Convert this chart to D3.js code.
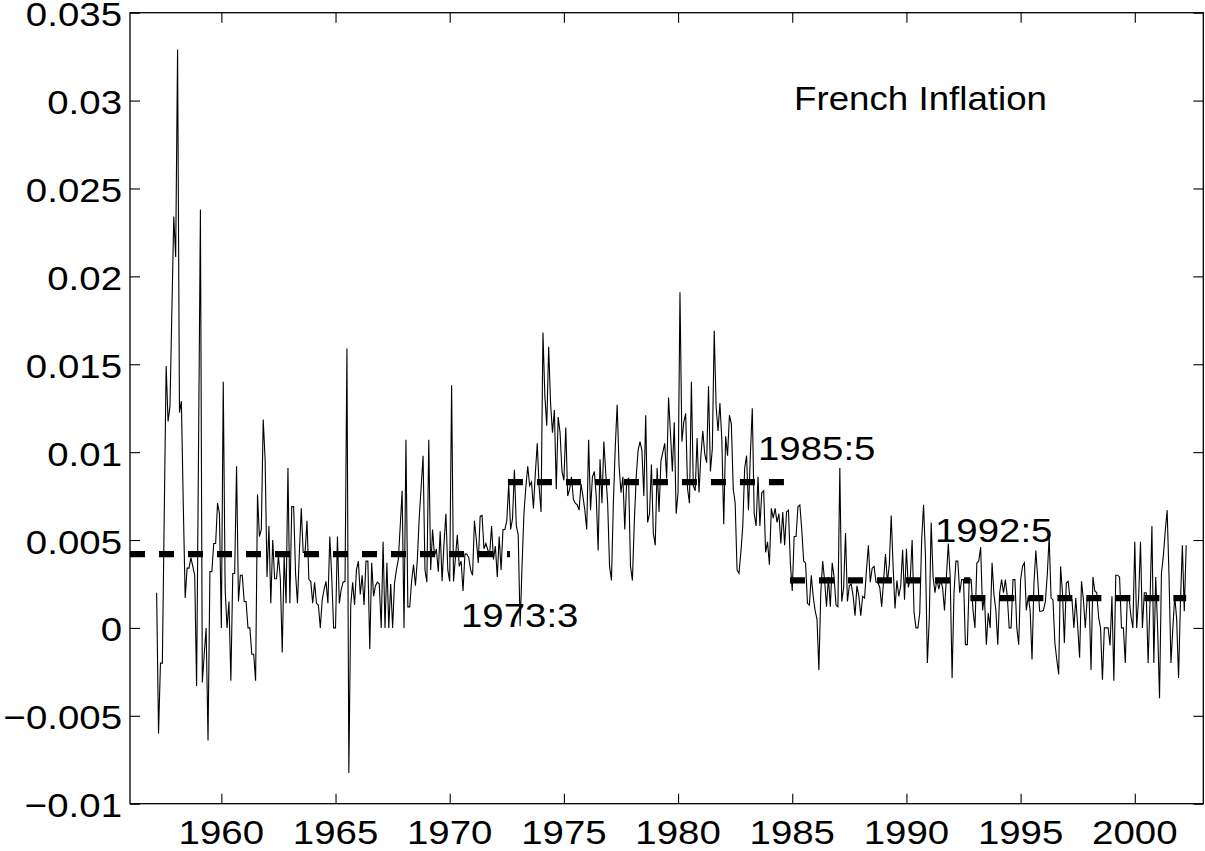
<!DOCTYPE html>
<html><head><meta charset="utf-8">
<script src="https://cdn.jsdelivr.net/npm/d3@7/dist/d3.min.js"></script>
<style>html,body{margin:0;padding:0;background:#fff}</style>
</head><body>
<svg id="chart" width="1205" height="851"></svg>
<script>
// ---------- data ----------
const startYear = 1957, startMonth = 3; // first monthly observation 1957:3
// monthly inflation, in thousandths (x 0.001)
const inflationPermille = [
 2.0,-6.0,-2.0,-2.0,6.5,14.9,11.75,12.6,18.0,23.4,21.1,32.9,12.25,12.9,7.0,1.7,3.4,3.4,4.0,3.5,
 3.0,-3.3,10.0,23.8,-3.1,-1.5,0.0,-6.4,3.2,3.2,4.8,4.8,7.1,6.5,0.0,14.0,2.2,0.0,1.5,-3.0,
 3.1,3.1,9.2,1.5,3.0,3.0,1.5,1.5,0.0,0.0,-1.5,-1.5,-3.0,7.6,5.2,5.6,11.85,9.6,2.9,5.8,
 1.4,5.0,2.8,2.8,4.1,2.8,-1.4,4.1,1.4,9.1,1.4,6.9,6.9,3.1,1.4,4.3,6.8,4.3,4.3,6.1,
 2.75,2.65,1.4,2.6,1.4,1.3,0.0,1.6,2.2,2.65,1.4,5.2,2.9,0.0,0.0,5.2,1.4,2.2,2.6,2.65,
 15.9,-8.25,1.3,2.6,1.3,3.3,3.8,1.9,3.0,1.3,3.8,3.8,-1.2,3.7,1.8,2.4,2.6,2.5,0.0,4.9,
 0.0,3.7,0.0,2.5,0.0,2.55,3.3,3.9,5.8,7.8,0.0,10.7,1.2,1.2,2.7,3.6,2.4,3.9,6.3,8.0,
 9.8,3.3,2.6,10.7,3.3,5.6,4.1,4.5,3.2,5.5,2.65,4.8,6.5,3.3,2.65,13.8,2.65,4.0,5.3,3.5,
 3.8,2.1,4.2,4.2,4.0,3.3,3.0,6.1,5.0,3.7,6.35,6.4,4.5,4.8,4.45,4.2,5.8,3.9,4.65,2.9,
 5.2,3.3,5.6,5.6,6.1,8.2,5.6,6.2,9.0,5.8,5.3,0.1,3.5,6.5,8.0,9.2,8.1,8.3,6.8,8.8,
 10.5,8.0,6.6,16.8,13.2,11.5,16.0,12.8,11.1,12.4,7.9,12.0,11.1,8.9,8.4,11.4,7.5,7.9,8.6,7.3,
 7.1,7.0,6.7,8.2,7.5,6.7,5.6,10.7,6.7,8.6,8.9,7.5,4.4,9.6,7.1,10.6,8.8,7.1,3.5,2.7,
 7.1,10.3,12.7,9.2,7.7,8.6,5.6,8.4,8.5,3.5,2.7,6.0,8.6,10.1,10.6,10.1,7.5,12.1,6.0,6.5,
 9.3,5.4,4.7,9.1,6.6,9.5,10.0,10.5,8.5,13.1,11.1,8.9,11.7,6.5,7.7,19.1,10.6,11.7,12.2,7.9,
 7.1,14.0,8.1,7.8,10.8,7.7,9.8,11.2,9.9,9.4,13.75,8.9,10.2,16.9,12.6,11.2,12.8,10.7,5.9,10.9,
 9.8,12.1,11.6,7.9,7.1,3.3,3.1,4.3,5.8,9.1,9.8,6.7,9.9,12.5,6.5,5.8,8.6,5.8,7.7,7.8,
 4.3,4.9,3.6,6.8,6.25,6.8,6.0,6.5,4.8,6.6,4.7,6.6,6.7,3.7,2.1,5.2,5.2,6.9,7.0,5.6,
 3.8,3.7,1.4,1.3,3.0,1.8,1.0,0.5,-2.4,2.0,3.8,2.7,1.2,2.9,1.2,3.7,2.9,1.3,1.2,9.1,
 1.5,2.3,5.4,1.5,2.4,2.5,1.8,0.7,2.4,1.8,0.7,1.8,1.7,3.3,4.7,2.6,3.4,3.5,2.6,2.6,
 2.3,1.2,2.7,4.2,2.6,3.6,6.4,3.5,1.1,2.7,1.8,2.4,4.45,1.6,4.5,2.3,2.8,5.0,0.9,0.0,
 0.0,0.85,5.0,7.0,4.1,-2.0,0.5,6.0,2.9,2.0,2.8,2.2,2.7,2.3,1.0,2.9,4.8,2.9,-2.85,2.0,
 3.8,3.8,2.0,2.75,2.75,-0.95,-0.95,2.75,2.75,1.0,0.0,3.7,3.8,4.6,1.0,1.8,-0.95,0.85,0.0,3.7,
 1.9,1.0,-0.95,2.0,2.75,2.0,2.75,1.8,0.0,0.0,2.75,2.75,0.0,-0.95,2.75,3.5,3.7,1.0,1.8,1.0,
 -1.8,2.5,4.4,2.8,0.95,0.95,1.0,1.5,3.0,5.2,1.7,1.6,-0.85,-1.8,-2.65,3.5,2.0,-0.85,2.55,2.65,
 1.6,1.6,0.0,1.7,0.1,-1.7,2.65,1.6,0.0,1.7,1.8,-2.4,2.9,2.1,2.0,0.6,0.0,-2.95,0.0,0.0,
 0.0,-1.0,1.8,-3.0,3.0,3.0,2.9,0.0,0.0,-2.0,1.6,1.7,0.65,0.0,4.9,0.0,1.7,4.9,0.0,2.0,
 2.0,-2.0,1.5,5.8,-2.0,2.9,0.0,-4.0,3.1,4.1,5.5,6.7,2.9,-2.0,0.0,1.8,0.5,-2.85,1.5,4.7,
 0.95,4.7
];
// regime means (dashed lines)
const regimeStart = [1956.0, 1972.55, 1984.9, 1992.8];
const regimeEnd   = [1972.64, 1984.9, 1992.8, 2002.25];
const regimeMean  = [0.0042, 0.0083, 0.0027, 0.0017];
const breakLabels = ["1973:3", "1985:5", "1992:5"];
const titleText = "French Inflation";
const yTickValues = [0.035, 0.03, 0.025, 0.02, 0.015, 0.01, 0.005, 0, -0.005, -0.01];
const yTickLabels = ["0.035", "0.03", "0.025", "0.02", "0.015", "0.01", "0.005", "0", "\u22120.005", "\u22120.01"];
const xTickValues = [1960, 1965, 1970, 1975, 1980, 1985, 1990, 1995, 2000];
const xTickLabels = ["1960", "1965", "1970", "1975", "1980", "1985", "1990", "1995", "2000"];

// ---------- layout ----------
const L = {left: 130, right: 1203.3, top: 12.7, bottom: 803.7,
  font: "'Liberation Sans', Arial, Helvetica, sans-serif", fontSize: 34, sx: 1.13};
const breakLabelPos = [[461, 627], [758, 460], [935, 542]];
const titlePos = [794, 110];
const titleSx = 1.08;

const svg = d3.select("#chart");
svg.append("rect").attr("width", 1205).attr("height", 851).attr("fill", "#fff");

const x = d3.scaleLinear().domain([1956, 2003]).range([L.left, L.right]);
const y = d3.scaleLinear().domain([-0.01, 0.035]).range([L.bottom, L.top]);

const series = inflationPermille.map((v, i) => ({
  t: startYear + (startMonth - 1) / 12 + i / 12,
  v: v / 1000
}));

svg.append("clipPath").attr("id", "plotclip").append("rect")
  .attr("x", L.left).attr("y", L.top).attr("width", L.right - L.left).attr("height", L.bottom - L.top);

const plot = svg.append("g").attr("clip-path", "url(#plotclip)");

// data line
plot.append("path")
  .datum(series)
  .attr("fill", "none").attr("stroke", "#000").attr("stroke-width", 1.1)
  .attr("stroke-linejoin", "miter")
  .attr("d", d3.line().x(d => x(d.t)).y(d => y(d.v)));

// regime mean dashed lines
plot.selectAll("line.regime").data(regimeMean).join("line")
  .attr("class", "regime")
  .attr("x1", (d, i) => x(regimeStart[i])).attr("x2", (d, i) => x(regimeEnd[i]))
  .attr("y1", d => y(d)).attr("y2", d => y(d))
  .attr("stroke", "#000").attr("stroke-width", 6.3)
  .attr("stroke-dasharray", "15,14");

// axes ticks (inward) on all four sides
const tickLen = 10;
svg.append("g").attr("transform", `translate(${L.left},0)`)
  .call(d3.axisLeft(y).tickValues(yTickValues).tickSize(-tickLen).tickFormat(""))
  .call(g => g.select(".domain").remove());
svg.append("g").attr("transform", `translate(${L.right},0)`)
  .call(d3.axisRight(y).tickValues(yTickValues).tickSize(-tickLen).tickFormat(""))
  .call(g => g.select(".domain").remove());
svg.append("g").attr("transform", `translate(0,${L.bottom})`)
  .call(d3.axisBottom(x).tickValues(xTickValues).tickSize(-tickLen).tickFormat(""))
  .call(g => g.select(".domain").remove());
svg.append("g").attr("transform", `translate(0,${L.top})`)
  .call(d3.axisTop(x).tickValues(xTickValues).tickSize(-tickLen).tickFormat(""))
  .call(g => g.select(".domain").remove());
svg.selectAll(".tick line").attr("stroke", "#000").attr("stroke-width", 1.1);

// box
svg.append("rect")
  .attr("x", L.left).attr("y", L.top).attr("width", L.right - L.left).attr("height", L.bottom - L.top)
  .attr("fill", "none").attr("stroke", "#000").attr("stroke-width", 1.3);

function stretchedText(px, py, txt, anchor, sx) {
  svg.append("g").attr("transform", `translate(${px},${py}) scale(${sx || L.sx},1)`)
    .append("text").attr("x", 0).attr("y", 0)
    .attr("text-anchor", anchor)
    .attr("font-family", L.font).attr("font-size", L.fontSize).attr("fill", "#000")
    .text(txt);
}

// y tick labels
yTickValues.forEach((v, i) => stretchedText(122, y(v) + 13.5, yTickLabels[i], "end"));
// x tick labels
xTickValues.forEach((v, i) => stretchedText(x(v), 844, xTickLabels[i], "middle"));
// break labels
breakLabels.forEach((s, i) => stretchedText(breakLabelPos[i][0], breakLabelPos[i][1], s, "start"));
// title
stretchedText(titlePos[0], titlePos[1], titleText, "start", titleSx);
</script>
</body></html>
